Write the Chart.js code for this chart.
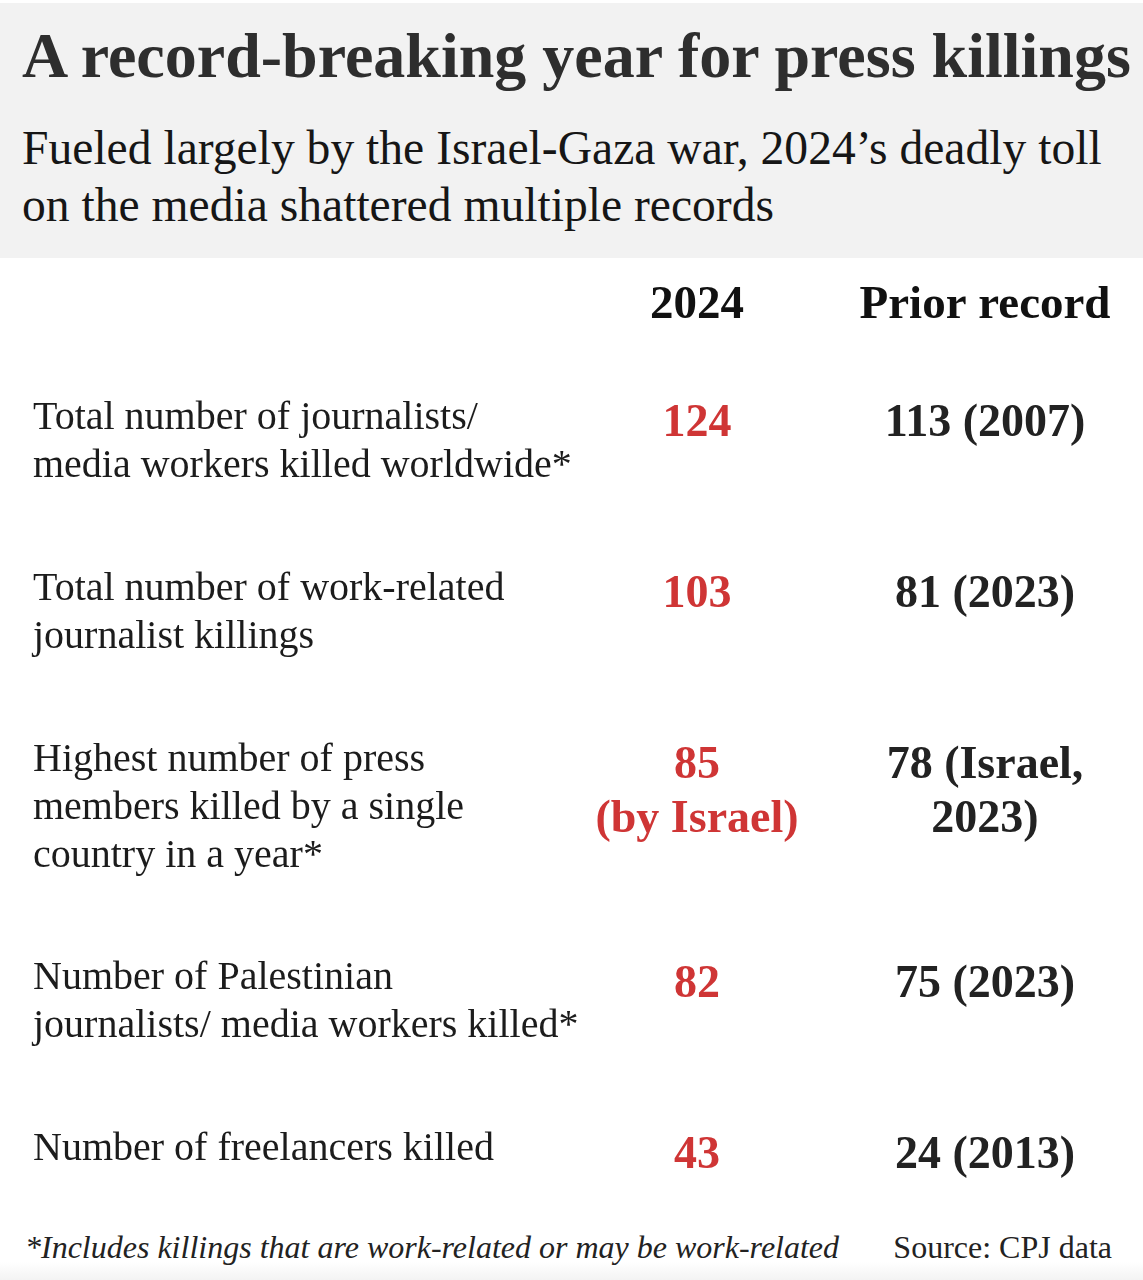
<!DOCTYPE html>
<html>
<head>
<meta charset="utf-8">
<script src="https://cdn.jsdelivr.net/npm/chart.js@4.4.1/dist/chart.umd.min.js"></script>
<style>
  html, body { margin: 0; padding: 0; background: #fff; width: 1143px; height: 1280px; overflow: hidden; }
  body { position: relative; font-family: "Liberation Serif", serif; }
  .band { position: absolute; left: 0; top: 3px; width: 1143px; height: 255px; background: #f2f2f2; }
  .title { position: absolute; left: 22px; top: 24px; margin: 0; font-size: 64px; line-height: 64px; font-weight: bold; color: #2e2e2e; white-space: nowrap; }
  .subtitle { position: absolute; left: 22px; top: 120px; margin: 0; font-size: 47.6px; line-height: 57px; color: #161616; white-space: nowrap; }
  .table { position: absolute; left: 0; top: 258px; width: 1143px; height: 942px; }
  .note { position: absolute; top: 1231px; font-size: 32px; line-height: 32px; color: #222; white-space: nowrap; }
  .fade { position: absolute; left: 0; bottom: 0; width: 1143px; height: 18px; background: linear-gradient(#fff, #f3f3f3); }
</style>
</head>
<body>
<div class="band"></div>
<h1 class="title">A record-breaking year for press killings</h1>
<p class="subtitle">Fueled largely by the Israel-Gaza war, 2024’s deadly toll<br>on the media shattered multiple records</p>
<div class="table"><canvas id="tabla"></canvas></div>
<div class="fade"></div>
<div class="note" style="left:25px; font-style: italic;">*Includes killings that are work-related or may be work-related</div>
<div class="note" style="right:31px;">Source: CPJ data</div>

<script>
// Filas de la tabla (cada texto ya partido en sus líneas)
const rowLabels = [
    ['Total number of journalists/', 'media workers killed worldwide*'],
    ['Total number of work-related', 'journalist killings'],
    ['Highest number of press', 'members killed by a single', 'country in a year*'],
    ['Number of Palestinian', 'journalists/ media workers killed*'],
    ['Number of freelancers killed']
];
const columns = ['2024', 'Prior record'];
const killed2024 = [124, 103, 85, 82, 43];
const note2024 = ['', '', '(by Israel)', '', ''];
const priorRecord = [113, 81, 78, 75, 24];
const priorWhen = ['2007', '2023', 'Israel, 2023', '2023', '2013'];

document.addEventListener('DOMContentLoaded', function () {
    const ctx = document.getElementById('tabla').getContext('2d');

    // Posición horizontal de cada columna (en px del eje x, 0..1143)
    const labelX = 33;
    const colX = [697, 985];

    // Posición vertical de cada fila, en "líneas" de texto
    const firstRow = 1.55;
    const rowGap = 1.56;
    const rowY = [];
    rowLabels.forEach((lines, i) => {
        rowY.push(i === 0 ? firstRow : rowY[i - 1] + rowLabels[i - 1].length + rowGap);
    });
    const valueShift = 0.15;

    const valueLines = killed2024.map((v, i) => note2024[i] ? [String(v), note2024[i]] : [String(v)]);
    const priorLines = priorRecord.map((v, i) => {
        const when = priorWhen[i];
        return when.includes(', ') ? [v + ' (' + when.split(', ')[0] + ',', when.split(', ')[1] + ')'] : [v + ' (' + when + ')'];
    });

    // Plugin que escribe el texto de cada celda en la posición de su punto
    const cellText = {
        id: 'cellText',
        afterDatasetsDraw(chart) {
            const c = chart.ctx;
            const y = chart.scales.y;
            const step = Math.abs(y.getPixelForValue(1) - y.getPixelForValue(0));
            chart.data.datasets.forEach((ds, i) => {
                const meta = chart.getDatasetMeta(i);
                c.save();
                c.font = ds.font;
                c.fillStyle = ds.textColor;
                c.textAlign = ds.textAlign;
                c.textBaseline = 'alphabetic';
                meta.data.forEach((pt, j) => {
                    ds.lines[j].forEach((line, k) => {
                        c.fillText(line, pt.x, pt.y + k * step * ds.lineScale);
                    });
                });
                c.restore();
            });
        }
    };

    const chartData = {
        datasets: [{
            label: 'Category',
            data: rowY.map(v => ({ x: labelX, y: v })),
            lines: rowLabels,
            font: '40px "Liberation Serif"',
            textColor: '#1c1c1c',
            textAlign: 'left',
            lineScale: 1
        }, {
            label: columns[0],
            data: rowY.map(v => ({ x: colX[0], y: v + valueShift })),
            lines: valueLines,
            font: 'bold 46px "Liberation Serif"',
            textColor: '#cf3535',
            textAlign: 'center',
            lineScale: 1.125
        }, {
            label: columns[1],
            data: rowY.map(v => ({ x: colX[1], y: v + valueShift })),
            lines: priorLines,
            font: 'bold 46px "Liberation Serif"',
            textColor: '#222222',
            textAlign: 'center',
            lineScale: 1.125
        }]
    };

    new Chart(ctx, {
        type: 'scatter',
        data: chartData,
        plugins: [cellText],
        options: {
            responsive: true,
            maintainAspectRatio: false,
            animation: false,
            events: [],
            elements: { point: { radius: 0, hoverRadius: 0 } },
            layout: { padding: 0 },
            scales: {
                x: {
                    type: 'linear',
                    position: 'top',
                    min: 0,
                    max: 1143,
                    afterBuildTicks: axis => { axis.ticks = colX.map(v => ({ value: v })); },
                    ticks: {
                        padding: 20,
                        color: '#111111',
                        font: { family: 'Liberation Serif', size: 47, weight: 'bold' },
                        callback: value => columns[colX.indexOf(value)]
                    },
                    grid: { display: false, drawTicks: false },
                    border: { display: false }
                },
                y: {
                    type: 'linear',
                    display: false,
                    reverse: true,
                    min: 0,
                    max: (942 - 96.4) / 48
                }
            },
            plugins: {
                legend: { display: false },
                tooltip: { enabled: false }
            }
        }
    });
});
</script>
</body>
</html>
